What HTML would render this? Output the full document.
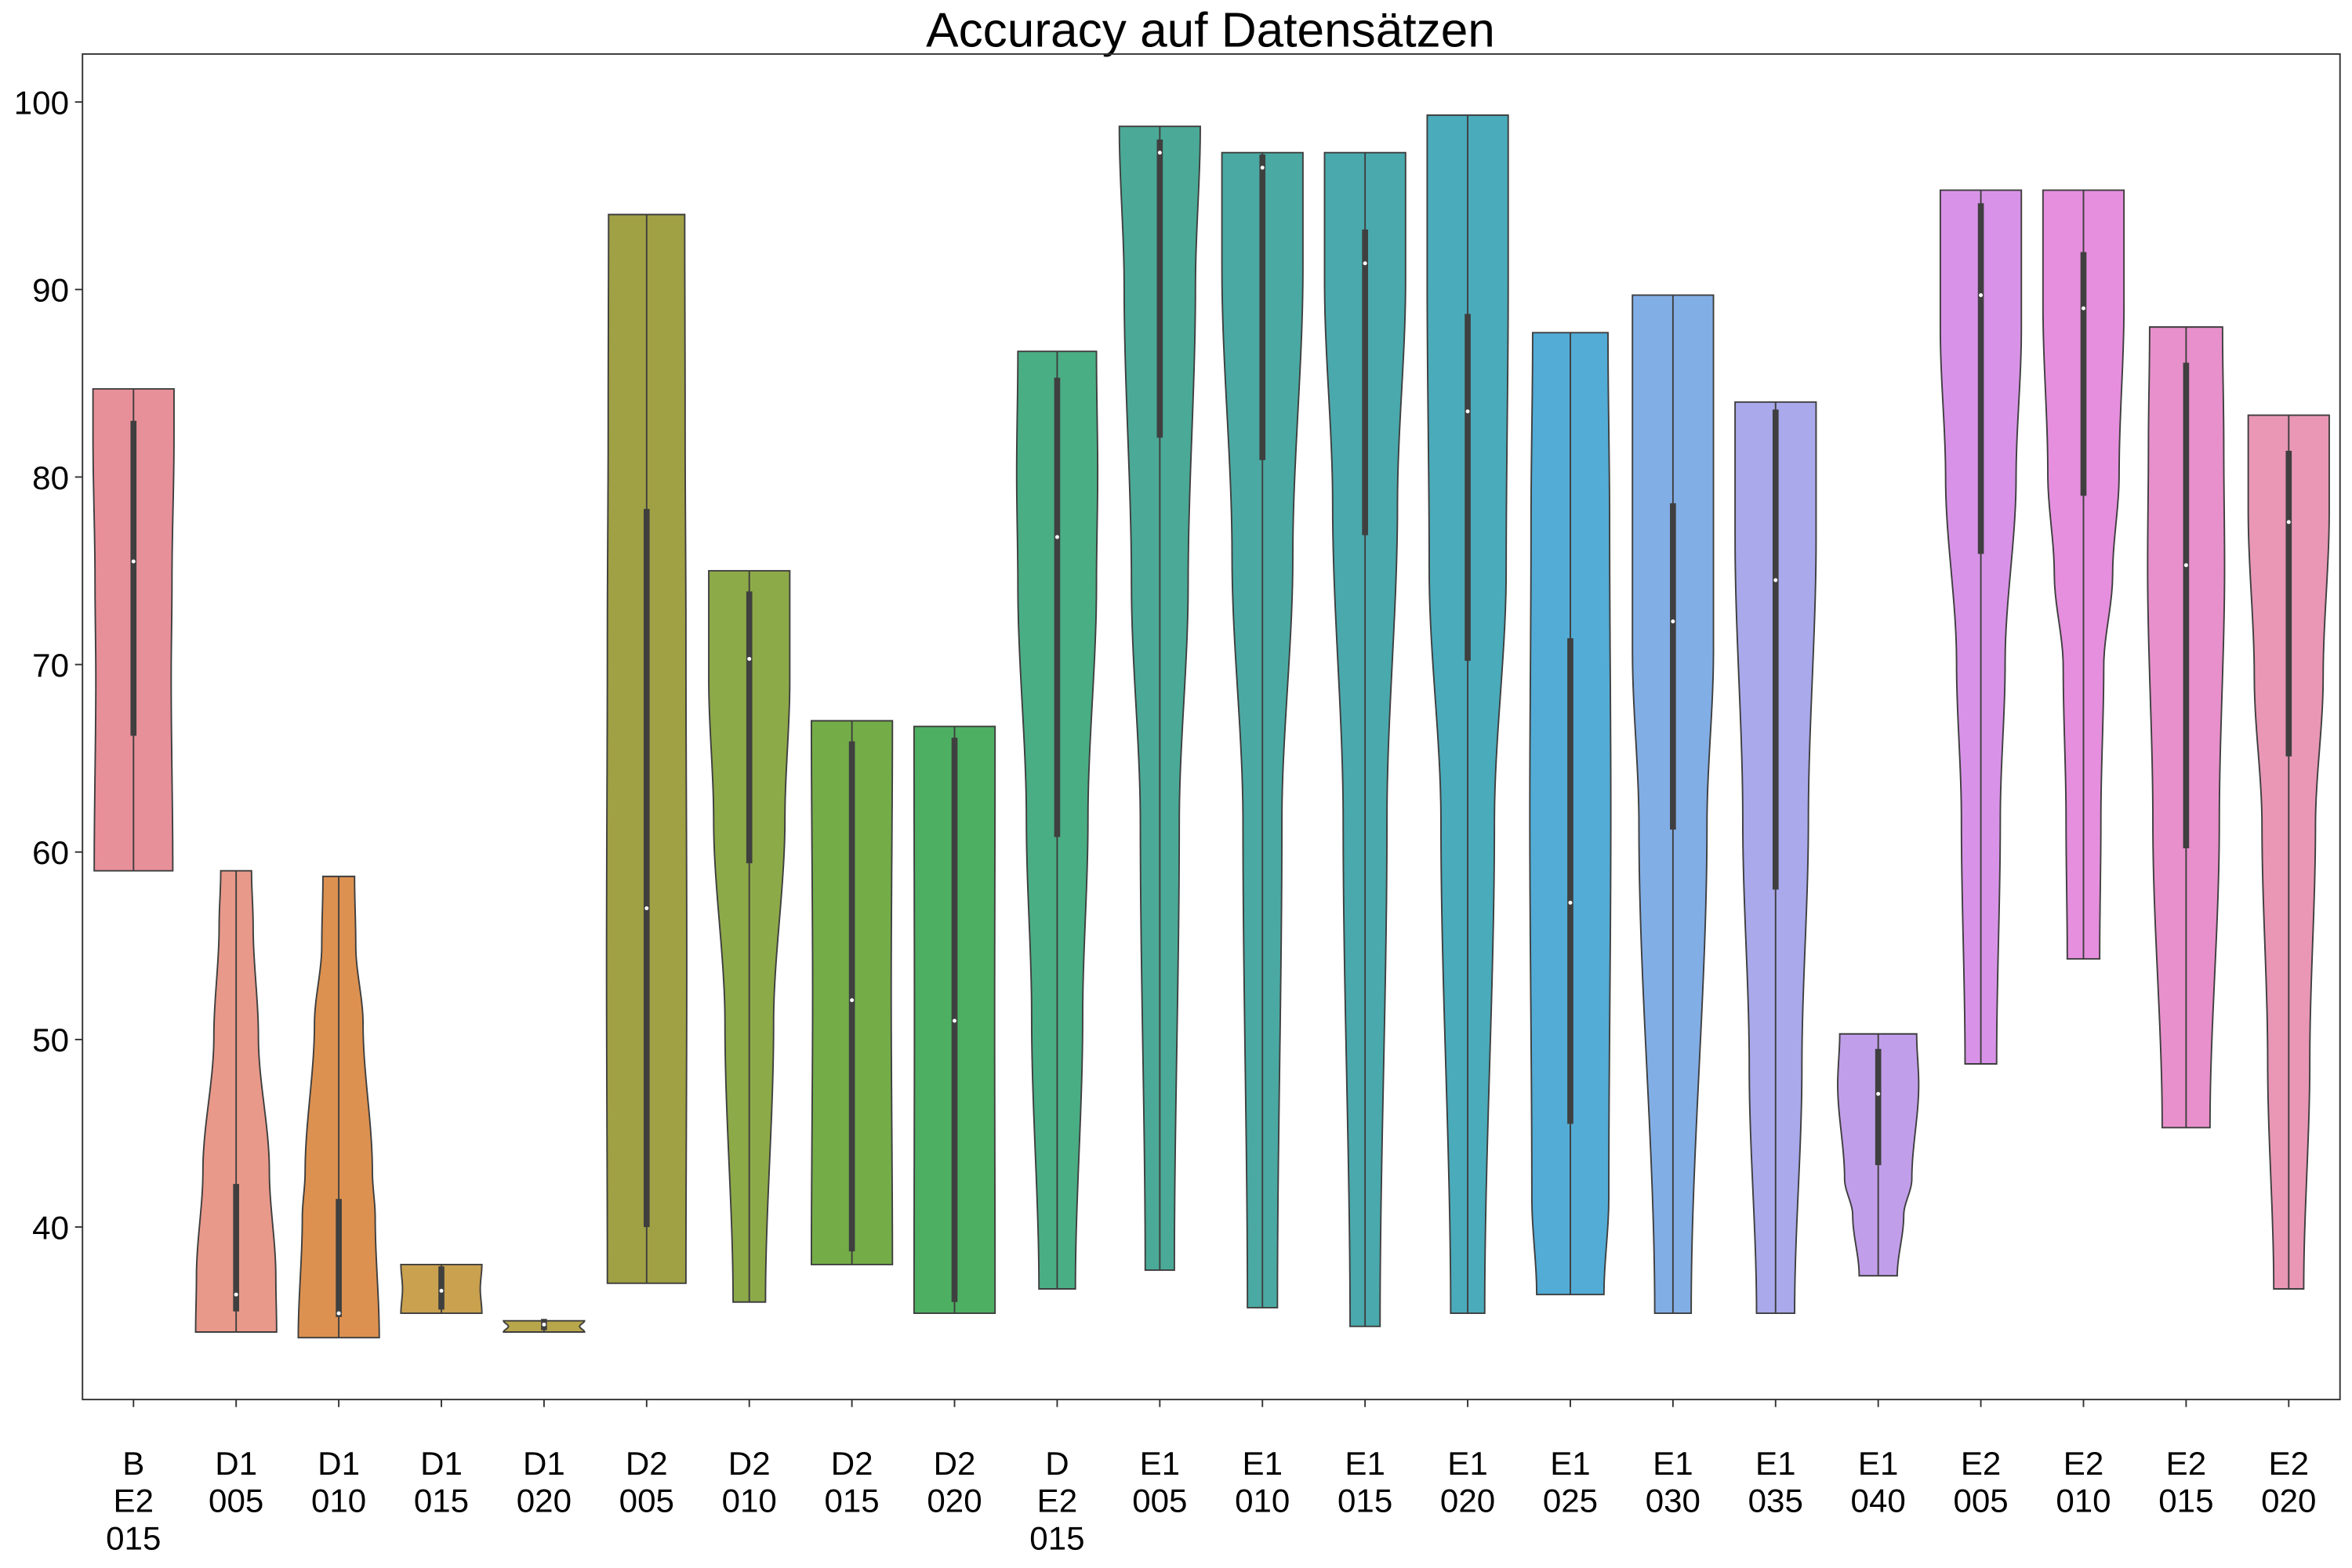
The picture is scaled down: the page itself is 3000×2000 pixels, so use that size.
<!DOCTYPE html>
<html><head><meta charset="utf-8"><style>html,body{margin:0;padding:0;background:#fff}svg{display:block}text{font-family:"Liberation Sans",sans-serif;fill:#000}</style></head>
<body>
<svg id="chart" xmlns="http://www.w3.org/2000/svg" width="3000" height="2000" viewBox="0 0 1568 1045.3">
<rect x="0" y="0" width="1568" height="1046" fill="#fff"/>
<text x="807" y="31" font-size="32.5" text-anchor="middle">Accuracy auf Datensätzen</text>
<g id="plot"></g>
<rect x="55" y="36" width="1505" height="897" fill="none" stroke="#333" stroke-width="1"/>
</svg>
<script>
const categories = ["B\nE2\n015","D1\n005","D1\n010","D1\n015","D1\n020","D2\n005","D2\n010","D2\n015","D2\n020","D\nE2\n015","E1\n005","E1\n010","E1\n015","E1\n020","E1\n025","E1\n030","E1\n035","E1\n040","E2\n005","E2\n010","E2\n015","E2\n020"];
const mins = [59,34.4,34.1,35.4,34.4,37,36,38,35.4,36.7,37.7,35.7,34.7,35.4,36.4,35.4,35.4,37.4,48.7,54.3,45.3,36.7];
const maxs = [84.7,59,58.7,38,35.0,94,75,67,66.7,86.7,98.7,97.3,97.3,99.3,87.7,89.7,84,50.3,95.3,95.3,88,83.3];
const q1s = [66.2,35.5,35.2,35.6,34.5,40,59.4,38.7,36,60.8,82.1,80.9,76.9,70.2,45.5,61.2,58,43.3,75.9,79,60.2,65.1];
const medians = [75.5,36.4,35.4,36.6,34.8,57,70.3,52.1,51,76.8,97.3,96.5,91.4,83.5,57.3,72.3,74.5,47.1,89.7,89,75.3,77.6];
const q3s = [83.0,42.3,41.5,37.9,35.1,78.3,73.9,65.9,66.1,85.3,98.0,97.2,93.2,88.7,71.4,78.6,83.6,49.5,94.6,92,86.1,81.4];
// density width profiles: [fraction of span from min to max, relative half-width]
const profiles = [
 [[0,0.97],[0.4,0.93],[0.6,0.95],[0.9,1],[1,1]],
 [[0,1],[0.12,0.98],[0.35,0.82],[0.64,0.55],[0.88,0.42],[1,0.38]],
 [[0,1],[0.26,0.9],[0.36,0.83],[0.68,0.6],[0.85,0.42],[1,0.39]],
 [[0,1],[0.5,0.96],[1,1]],
 [[0,1],[0.5,0.88],[1,1]],
 [[0,0.97],[0.3,0.99],[0.6,0.97],[0.8,0.95],[1,0.94]],
 [[0,0.4],[0.38,0.6],[0.66,0.88],[0.85,1],[1,1]],
 [[0,1],[0.5,0.97],[1,1]],
 [[0,1],[0.5,0.99],[1,1]],
 [[0,0.45],[0.29,0.63],[0.5,0.76],[0.75,0.97],[0.87,1],[1,0.97]],
 [[0,0.36],[0.39,0.48],[0.6,0.7],[0.86,0.88],[1,1]],
 [[0,0.37],[0.42,0.48],[0.65,0.75],[0.9,1],[1,1]],
 [[0,0.37],[0.43,0.54],[0.7,0.8],[0.89,1],[1,1]],
 [[0,0.42],[0.41,0.66],[0.62,0.95],[0.86,1],[1,1]],
 [[0,0.83],[0.1,0.95],[0.5,1],[0.8,0.97],[1,0.93]],
 [[0,0.45],[0.48,0.84],[0.65,1],[1,1]],
 [[0,0.47],[0.27,0.65],[0.54,0.81],[0.85,1],[1,1]],
 [[0,0.47],[0.25,0.63],[0.4,0.83],[0.79,1],[1,0.95]],
 [[0,0.39],[0.28,0.48],[0.46,0.6],[0.67,0.87],[0.84,1],[1,1]],
 [[0,0.4],[0.18,0.43],[0.38,0.5],[0.5,0.72],[0.63,0.88],[0.85,1],[1,1]],
 [[0,0.59],[0.38,0.82],[0.7,0.95],[0.85,0.93],[1,0.9]],
 [[0,0.37],[0.26,0.52],[0.53,0.66],[0.7,0.85],[0.89,1],[1,1]]
];
const colors = ["#e8909a","#e8998a","#dd9150","#c9a14f","#b8a64a","#a0a045","#8daa48","#74ad48","#4daf62","#4aae85","#4aaa97","#4aaaa3","#4aa9ad","#4aabbb","#52acd6","#82aee6","#a9a9ec","#c19eea","#d893e8","#e68fde","#e890cb","#e997b5"];
const yTicks = [40,50,60,70,80,90,100];

const NS="http://www.w3.org/2000/svg";
const plot=document.getElementById('plot');
const svg=document.getElementById('chart');
const y=v=>68+(100-v)*12.5;
const x=i=>89+i*68.42;
const HW=27;
function mk(tag,attrs,parent){const e=document.createElementNS(NS,tag);for(const k in attrs)e.setAttribute(k,attrs[k]);(parent||plot).appendChild(e);return e;}
function widthAt(p,t){for(let k=0;k<p.length-1;k++){if(t>=p[k][0]&&t<=p[k+1][0]){const a=p[k],b=p[k+1];let u=(t-a[0])/((b[0]-a[0])||1);u=u*u*(3-2*u);return a[1]+(b[1]-a[1])*u;}}return p[p.length-1][1];}

yTicks.forEach(v=>{
  const t=mk('line',{x1:50,x2:55,y1:y(v),y2:y(v),stroke:'#333','stroke-width':1},svg);
  
  
  const l=mk('text',{x:46,y:y(v)+8,'font-size':22,'text-anchor':'end'},svg);
  l.textContent=v;
  
  
});

categories.forEach((c,i)=>{
  const cx=x(i);
  const g=mk('g',{});
  
  
  const N=80,left=[],right=[];
  for(let s=0;s<=N;s++){const t=s/N;const v=mins[i]+(maxs[i]-mins[i])*t;const w=HW*widthAt(profiles[i],t);right.push([cx+w,y(v)]);left.push([cx-w,y(v)]);}
  const pts=right.concat(left.reverse());
  const d='M'+pts.map(p=>p[0].toFixed(2)+','+p[1].toFixed(2)).join('L')+'Z';
  const body=mk('path',{d:d,fill:colors[i],stroke:'#3f3f3f','stroke-width':1},g);
  
  
  const wl=mk('line',{x1:cx,x2:cx,y1:y(mins[i]),y2:y(maxs[i]),stroke:'#3f3f3f','stroke-width':1},g);
  
  
  const bx=mk('line',{x1:cx,x2:cx,y1:y(q1s[i]),y2:y(q3s[i]),stroke:'#3f3f3f','stroke-width':4},g);
  
  
  const md=mk('circle',{cx:cx,cy:y(medians[i]),r:1.3,fill:'#fff'},g);
  
  
  const tk=mk('line',{x1:cx,x2:cx,y1:933,y2:938,stroke:'#333','stroke-width':1},svg);
  
  
  const tl=mk('text',{x:cx,'font-size':22,'text-anchor':'middle'},svg);
  
  
  c.split('\n').forEach((ln,j)=>{const ts=mk('tspan',{x:cx,y:983+j*25},tl);ts.textContent=ln;});
});
</script>
</body></html>
